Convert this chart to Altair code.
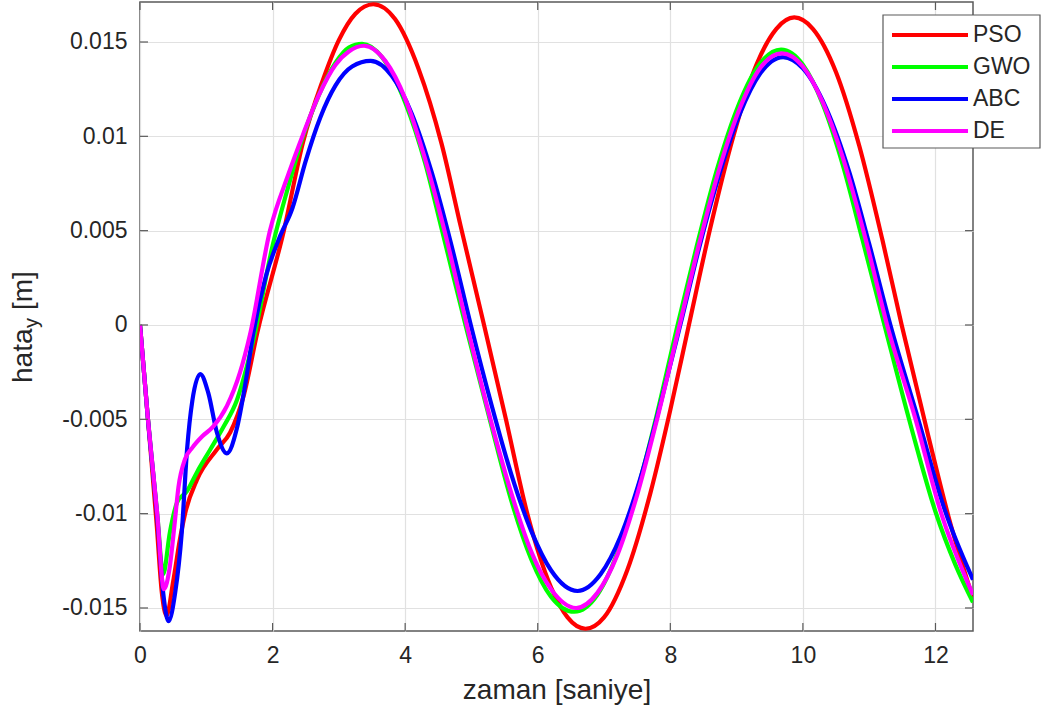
import altair as alt
import pandas as pd

# ---------------- data ----------------
series_names = ["PSO", "GWO", "ABC", "DE"]
series_colors = ["#ff0000", "#00ff00", "#0000ff", "#ff00ff"]

pso_t = [0, 0.12, 0.25, 0.33, 0.40, 0.50, 0.60, 0.68, 0.86, 1.16, 1.36, 1.56, 1.77, 2.17, 2.46,
         2.75, 3.0, 3.25, 3.52, 3.85, 4.2, 4.55, 4.84, 5.19, 5.52, 5.85, 6.2, 6.45, 6.72, 7.0,
         7.35, 7.7, 8.0, 8.28, 8.6, 8.95, 9.3, 9.6, 9.87, 10.15, 10.5, 10.85, 11.2, 11.49, 11.9,
         12.2, 12.566]
pso_y = [0, -0.0050, -0.0105, -0.0142, -0.0154, -0.0136, -0.0114, -0.0100, -0.0082, -0.0066,
         -0.0057, -0.0038, -0.0004, 0.0050, 0.0097, 0.0129, 0.0151, 0.0165, 0.0170, 0.0162,
         0.0136, 0.0096, 0.0052, 0.0, -0.0050, -0.0101, -0.0139, -0.0155, -0.0161, -0.0155,
         -0.0130, -0.0089, -0.0045, 0.0, 0.0051, 0.0100, 0.0138, 0.0157, 0.0163, 0.0157,
         0.0134, 0.0095, 0.0045, 0.0, -0.0060, -0.0102, -0.0145]

gwo_t = [0, 0.12, 0.26, 0.35, 0.45, 0.56, 0.71, 0.86, 1.06, 1.26, 1.46, 1.71, 2.0, 2.25, 2.46,
         2.7, 2.95, 3.15, 3.35, 3.65, 4.0, 4.3, 4.55, 4.91, 5.29, 5.6, 5.9, 6.2, 6.55, 6.9,
         7.2, 7.5, 7.8, 8.11, 8.4, 8.7, 9.0, 9.3, 9.67, 10.0, 10.3, 10.6, 10.9, 11.23, 11.64,
         12.0, 12.3, 12.566]
gwo_y = [0, -0.0050, -0.0100, -0.0132, -0.0110, -0.0094, -0.0088, -0.0078, -0.0066, -0.0054,
         -0.0040, -0.0008, 0.0042, 0.0075, 0.0100, 0.0122, 0.0139, 0.0147, 0.0149, 0.0142,
         0.0118, 0.0086, 0.0051, 0.0, -0.0052, -0.0093, -0.0124, -0.0144, -0.0152, -0.0143,
         -0.0121, -0.0088, -0.0047, 0.0, 0.0042, 0.0082, 0.0114, 0.0136, 0.0146, 0.0138,
         0.0117, 0.0085, 0.0045, 0.0, -0.0055, -0.0099, -0.0127, -0.0147]

abc_t = [0, 0.12, 0.26, 0.35, 0.43, 0.53, 0.63, 0.71, 0.79, 0.91, 1.03, 1.16, 1.31, 1.46, 1.59,
         1.71, 1.90, 2.10, 2.30, 2.50, 2.72, 2.95, 3.2, 3.48, 3.8, 4.1, 4.4, 4.7, 4.99, 5.3, 5.6,
         5.9, 6.2, 6.6, 6.95, 7.25, 7.55, 7.85, 8.15, 8.45, 8.75, 9.05, 9.35, 9.7, 10.0, 10.35,
         10.7, 11.0, 11.32, 11.74, 12.14, 12.566]
abc_y = [0, -0.0050, -0.0102, -0.0142, -0.0157, -0.0142, -0.0110, -0.0066, -0.0040, -0.0026,
         -0.0036, -0.0057, -0.0068, -0.0055, -0.0031, -0.0004, 0.0026, 0.0046, 0.0062, 0.0087,
         0.0110, 0.0127, 0.0137, 0.0140, 0.0132, 0.0112, 0.0081, 0.0042, 0.0, -0.0042, -0.0079,
         -0.0109, -0.0130, -0.0141, -0.0132, -0.0112, -0.0081, -0.0042, 0.0, 0.0043, 0.0081,
         0.0112, 0.0133, 0.0142, 0.0136, 0.0115, 0.0081, 0.0043, 0.0, -0.0050, -0.0098, -0.0135]

de_t = [0, 0.12, 0.26, 0.36, 0.45, 0.52, 0.58, 0.68, 0.79, 0.94, 1.10, 1.31, 1.51, 1.66, 1.96,
        2.24, 2.46, 2.7, 2.95, 3.15, 3.38, 3.7, 4.0, 4.3, 4.6, 4.93, 5.25, 5.6, 5.9, 6.2,
        6.58, 6.9, 7.2, 7.5, 7.8, 8.14, 8.45, 8.75, 9.05, 9.35, 9.68, 10.0, 10.3, 10.6, 10.95,
        11.27, 11.70, 12.07, 12.566]
de_y = [0, -0.0050, -0.0100, -0.0140, -0.0128, -0.0106, -0.0086, -0.0071, -0.0065, -0.0059,
        -0.0054, -0.0043, -0.0025, -0.0005, 0.0050, 0.0080, 0.0101, 0.0122, 0.0138, 0.0145,
        0.0148, 0.0140, 0.0120, 0.0088, 0.0049, 0.0, -0.0045, -0.0089, -0.0120, -0.0140,
        -0.0150, -0.0142, -0.0122, -0.0090, -0.0050, 0.0, 0.0045, 0.0084, 0.0115, 0.0136,
        0.0144, 0.0137, 0.0118, 0.0089, 0.0045, 0.0, -0.0050, -0.0098, -0.0143]

x_ticks = [0, 2, 4, 6, 8, 10, 12]
y_ticks = [-0.015, -0.01, -0.005, 0, 0.005, 0.01, 0.015]
x_domain = [0, 12.566]
y_domain = [-0.01622, 0.01712]

x_title = "zaman [saniye]"
y_title_main = "hata"
y_title_sub = "y"
y_title_tail = "[m]"

# ---------------- styling ----------------
FONT = "Liberation Sans"
TXT = "#262626"
FRAME = "#5a5a5a"
GRID = "#e1e1e1"
W, H = 833, 629
TICK_LEN = 8

x_axis = alt.Axis(values=x_ticks, grid=True, gridColor=GRID, gridWidth=1.2, ticks=False,
                  domain=False, labelFontSize=23, labelFont=FONT, labelColor=TXT,
                  labelPadding=13, labelFlush=False, labelOverlap=False,
                  titleFont=FONT, titleFontSize=28, titleFontWeight="normal",
                  titleColor=TXT, titlePadding=9)
y_axis = alt.Axis(values=y_ticks, grid=True, gridColor=GRID, gridWidth=1.2, ticks=False,
                  domain=False, labelFontSize=23, labelFont=FONT, labelColor=TXT,
                  labelPadding=13, labelFlush=False, labelOverlap=False,
                  labelExpr="replace(format(datum.value, '~g'), '\u2212', '-')")

X = alt.X("t:Q", scale=alt.Scale(domain=x_domain, nice=False, zero=False), axis=x_axis,
          title=x_title)
Y = alt.Y("v:Q", scale=alt.Scale(domain=y_domain, nice=False, zero=False), axis=y_axis,
          title="")

all_t = [pso_t, gwo_t, abc_t, de_t]
all_y = [pso_y, gwo_y, abc_y, de_y]

layers = []
for name, color, ts, vs in zip(series_names, series_colors, all_t, all_y):
    df = pd.DataFrame({"t": ts, "v": vs, "s": name})
    layers.append(
        alt.Chart(df).mark_line(color=color, strokeWidth=4.2, interpolate="monotone", clip=True)
        .encode(x=X, y=Y)
    )

# inward ticks (MATLAB style) on all four sides
xt = pd.DataFrame({"t": x_ticks})
yt = pd.DataFrame({"v": y_ticks})
tick_style = dict(color=FRAME, strokeWidth=1.2)
layers.append(alt.Chart(xt).mark_rule(**tick_style).encode(
    x=X, y=alt.value(H), y2=alt.value(H - TICK_LEN)))
layers.append(alt.Chart(xt).mark_rule(**tick_style).encode(
    x=X, y=alt.value(0), y2=alt.value(TICK_LEN)))
layers.append(alt.Chart(yt).mark_rule(**tick_style).encode(
    y=Y, x=alt.value(0), x2=alt.value(TICK_LEN)))
layers.append(alt.Chart(yt).mark_rule(**tick_style).encode(
    y=Y, x=alt.value(W), x2=alt.value(W - TICK_LEN)))

# y-axis title with subscript
one = pd.DataFrame({"k": [0]})
layers.append(alt.Chart(one).mark_text(text=y_title_main, angle=270, align="left",
                                       baseline="alphabetic", fontSize=28, font=FONT,
                                       color=TXT)
              .encode(x=alt.value(-108), y=alt.value(381)))
layers.append(alt.Chart(one).mark_text(text=y_title_sub, angle=270, align="left",
                                       baseline="alphabetic", fontSize=20, font=FONT,
                                       color=TXT)
              .encode(x=alt.value(-102), y=alt.value(326)))
layers.append(alt.Chart(one).mark_text(text=y_title_tail, angle=270, align="left",
                                       baseline="alphabetic", fontSize=28, font=FONT,
                                       color=TXT)
              .encode(x=alt.value(-108), y=alt.value(308)))

# legend box (opaque, drawn on top, like MATLAB)
LX0, LX1, LY0, LY1 = 743, 900, 13, 146
layers.append(alt.Chart(one).mark_rect(fill="white", stroke=FRAME, strokeWidth=1.2).encode(
    x=alt.value(LX0), x2=alt.value(LX1), y=alt.value(LY0), y2=alt.value(LY1)))
for i, (name, color) in enumerate(zip(series_names, series_colors)):
    row_y = 33 + 32 * i
    layers.append(alt.Chart(one).mark_rule(color=color, strokeWidth=4.2).encode(
        x=alt.value(752), x2=alt.value(828), y=alt.value(row_y)))
    layers.append(alt.Chart(one).mark_text(text=name, align="left", baseline="middle",
                                           fontSize=23, font=FONT, color=TXT).encode(
        x=alt.value(833), y=alt.value(row_y)))

chart = alt.layer(*layers).properties(
    width=W, height=H,
    padding={"left": 140, "top": 2, "right": 68, "bottom": 89},
    autosize=alt.AutoSizeParams(type="none"),
    background="white",
).configure_view(stroke=FRAME, strokeWidth=1.5)

chart.save("out.html", embed_options={"renderer": "svg", "actions": False})
